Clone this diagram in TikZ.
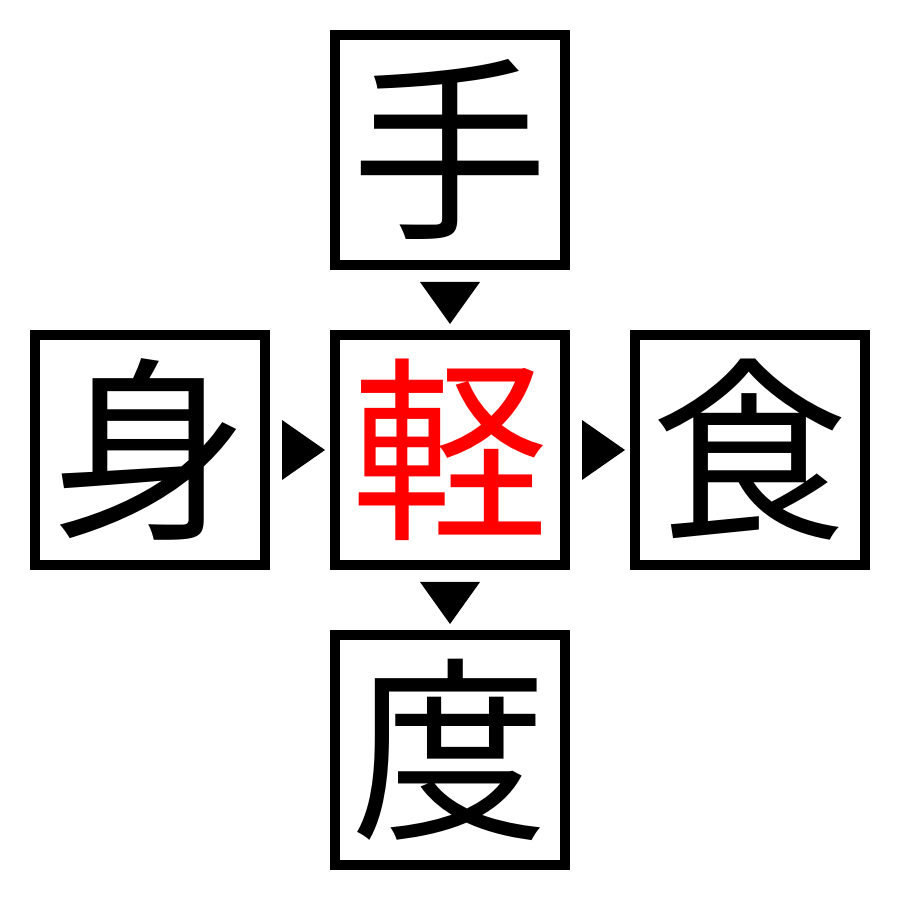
\documentclass[tikz,border=0pt]{standalone}
\usepackage{fontspec}
\newfontfamily\cjk{Noto Sans CJK JP}

\begin{document}
\begin{tikzpicture}
\tikzset{node distance=3cm,
    kanji/.style={rectangle, draw, line width=1mm, minimum size=2.3cm, inner sep=0pt, font=\cjk\fontsize{56}{56}\selectfont},
    tri/.style={fill=black}
}
  \useasboundingbox (0,0) rectangle (9,9);

  \node[kanji, text=red] (center) at (4.5,4.5) {軽};
  \node[kanji, above of=center] (top) {手};
  \node[kanji, below of=center] (bottom) {度};
  \node[kanji, left of=center] (left) {身};
  \node[kanji, right of=center] (right) {食};
  % triangles between boxes
  \fill[tri] (top.south) ++(-0.3,-0.12) -- ++(0.6,0) -- ++(-0.3,-0.42) -- cycle;
  \fill[tri] (center.south) ++(-0.3,-0.12) -- ++(0.6,0) -- ++(-0.3,-0.42) -- cycle;
  \fill[tri] (left.east) ++(0.12,0.3) -- ++(0,-0.6) -- ++(0.43,0.3) -- cycle;
  \fill[tri] (center.east) ++(0.12,0.3) -- ++(0,-0.6) -- ++(0.43,0.3) -- cycle;
\end{tikzpicture}
\end{document}
